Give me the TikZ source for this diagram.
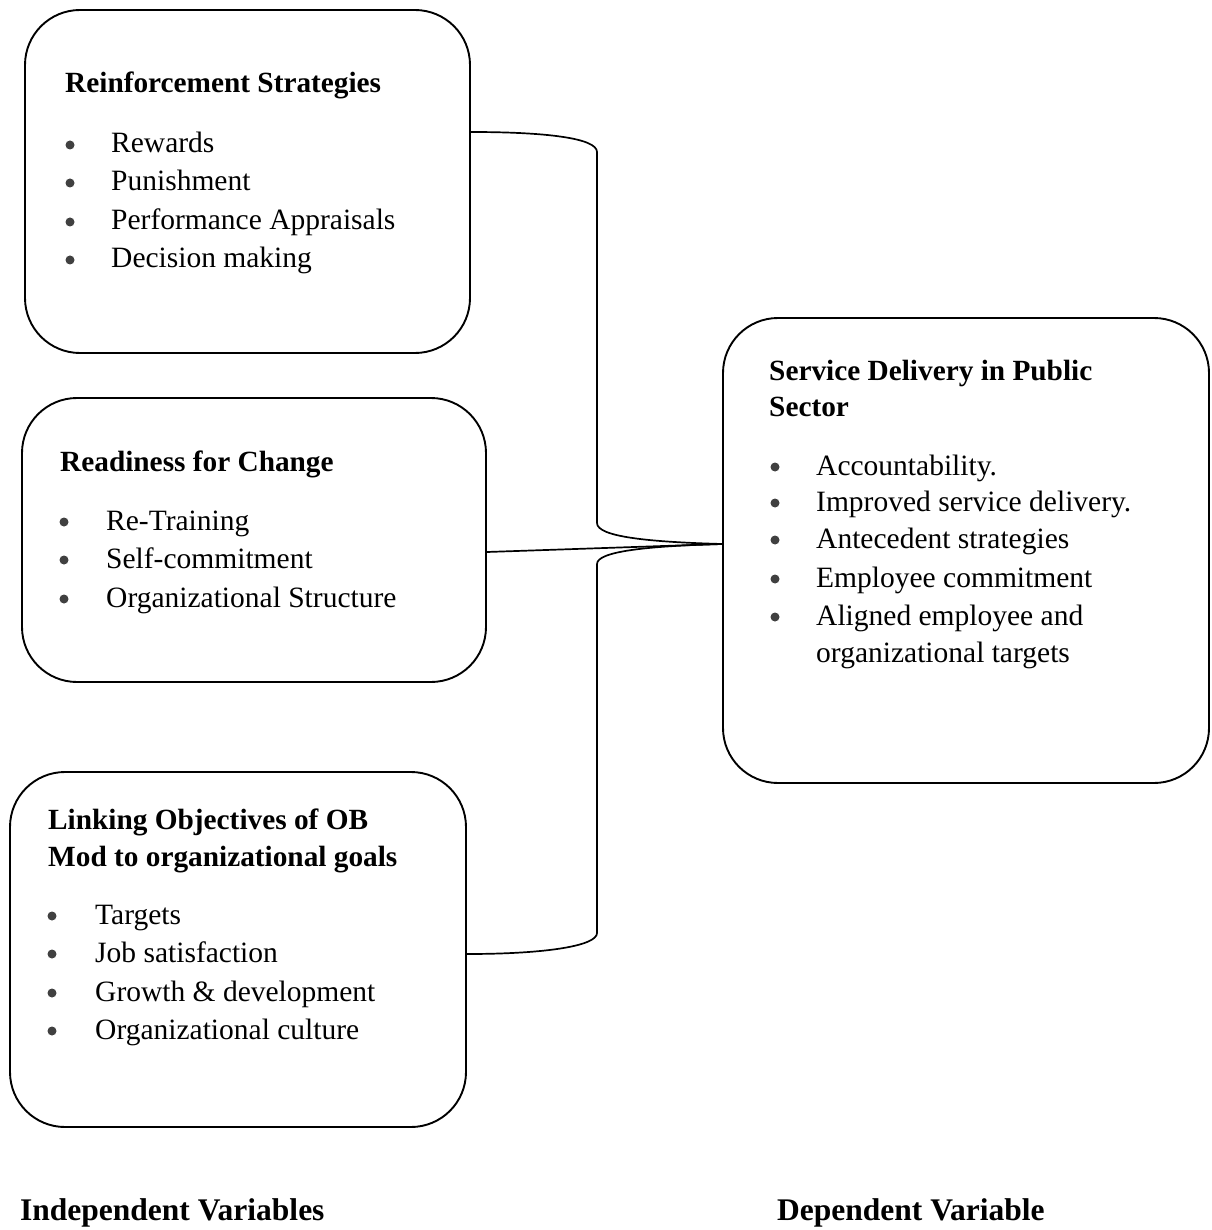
\documentclass[tikz,border=0pt]{standalone}
\usepackage{fontspec}
\setmainfont{Liberation Serif}
\begin{document}
\begin{tikzpicture}[x=1pt,y=-1pt,
  rbox/.style={draw, line width=1.9pt, rounded corners=55pt, inner sep=0pt},
  conn/.style={line width=1.7pt},
  ttl/.style={anchor=base west, inner sep=0pt, font=\fontsize{29.3}{36}\selectfont\bfseries},
  itm/.style={anchor=base west, inner sep=0pt, font=\fontsize{29.5}{36}\selectfont},
  blt/.style={circle, fill=black!75, inner sep=0pt, minimum size=9pt},
  lbl/.style={anchor=base west, inner sep=0pt, font=\fontsize{31.5}{36}\selectfont\bfseries}]
\useasboundingbox (0,0) rectangle (1211,1230);
\fill[white] (0,0) rectangle (1211,1230);

% boxes
\node[rbox, minimum width=445pt, minimum height=343pt] (b1) at (247.5,181.5) {};
\node[rbox, minimum width=464pt, minimum height=284pt] (b2) at (254,540) {};
\node[rbox, minimum width=456pt, minimum height=355pt] (b3) at (238,949.5) {};
\node[rbox, minimum width=486pt, minimum height=465pt] (b4) at (966,550.5) {};

% box 1 text
\node[ttl] (t1) at (65,93) {Reinforcement Strategies};
\node[blt] (d11) at (70,145) {}; \node[itm] (i11) at (111,153) {Rewards};
\node[blt] (d12) at (70,183) {}; \node[itm] (i12) at (111,191) {Punishment};
\node[blt] (d13) at (70,222) {}; \node[itm] (i13) at (111,230) {Performance Appraisals};
\node[blt] (d14) at (70,260) {}; \node[itm] (i14) at (111,268) {Decision making};

% box 2 text
\node[ttl] (t2) at (60,471) {Readiness for Change};
\node[blt] (d21) at (64,522) {}; \node[itm] (i21) at (106,530) {Re-Training};
\node[blt] (d22) at (64,560) {}; \node[itm] (i22) at (106,568) {Self-commitment};
\node[blt] (d23) at (64,599) {}; \node[itm] (i23) at (106,607) {Organizational Structure};

% box 3 text
\node[ttl] (t3a) at (48,829) {Linking Objectives of OB};
\node[ttl] (t3b) at (48,866) {Mod to organizational goals};
\node[blt] (d31) at (52,916) {}; \node[itm] (i31) at (95,924) {Targets};
\node[blt] (d32) at (52,954) {}; \node[itm] (i32) at (95,962) {Job satisfaction};
\node[blt] (d33) at (52,993) {}; \node[itm] (i33) at (95,1001) {Growth \& development};
\node[blt] (d34) at (52,1031) {}; \node[itm] (i34) at (95,1039) {Organizational culture};

% box 4 text
\node[ttl] (t4a) at (769,380) {Service Delivery in Public};
\node[ttl] (t4b) at (769,416) {Sector};
\node[blt] (d41) at (775,467) {}; \node[itm] (i41) at (816,475) {Accountability.};
\node[blt] (d42) at (775,503) {}; \node[itm] (i42) at (816,511) {Improved service delivery.};
\node[blt] (d43) at (775,540) {}; \node[itm] (i43) at (816,548) {Antecedent strategies};
\node[blt] (d44) at (775,579) {}; \node[itm] (i44) at (816,587) {Employee commitment};
\node[blt] (d45) at (775,617) {}; \node[itm] (i45) at (816,625) {Aligned employee and};
\node[itm] (i46) at (816,662) {organizational targets};

% bottom labels
\node[lbl] (l1) at (20,1220) {Independent Variables};
\node[lbl] (l2) at (777,1220) {Dependent Variable};

% connectors
\coordinate (j) at (b4.west |- 0,544);
\draw[conn] (b1.east |- 0,132) .. controls (545,132) and (597,138) .. (597,152)
  -- (597,523) .. controls (597,537) and (650,542) .. (j);
\draw[conn] (b2.east |- 0,552) -- (j);
\draw[conn] (b3.east |- 0,954) .. controls (545,954) and (597,946) .. (597,933)
  -- (597,564) .. controls (597,551) and (650,546) .. (j);
\end{tikzpicture}
\end{document}
